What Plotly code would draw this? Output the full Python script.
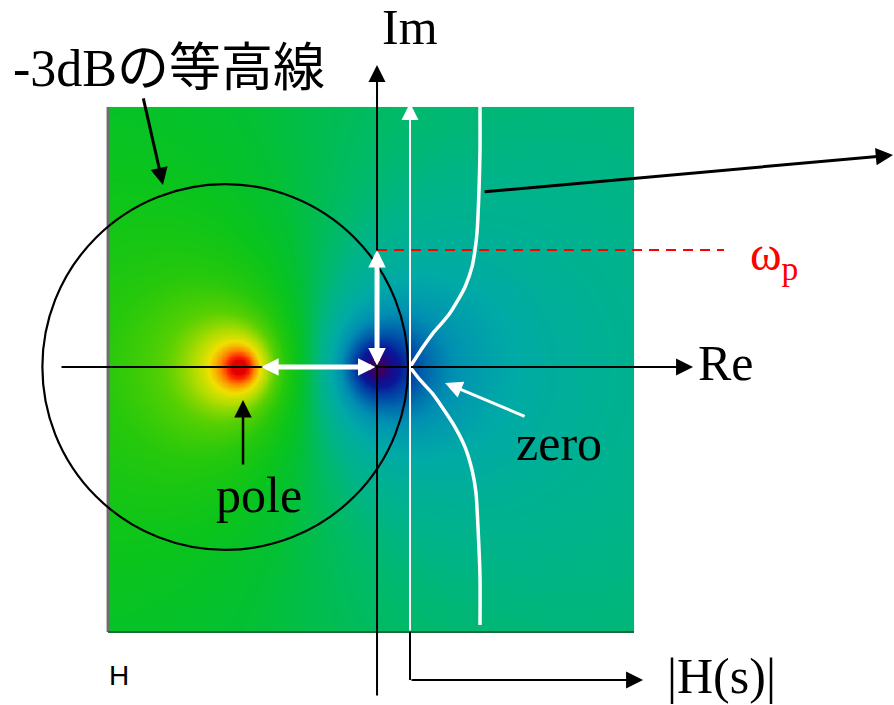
import numpy as np
import plotly.graph_objects as go

# ---- transfer function H(s) = (s - zero) / (s - pole) -------------------
poles = [complex(-1.0, 0.0)]
zeros = [complex(0.0, 0.0)]

# s-plane window covered by the |H(s)| surface (Re, Im)
re_span = [-1.949, 1.862]
im_span = [-1.920, 1.884]

# |H(jw)| profile along the imaginary axis (upper and lower halves)
omega_upper = [0.0, 0.145, 0.246, 0.319, 0.391, 0.486, 0.580, 0.725, 0.848,
               0.971, 1.283, 1.572, 1.884]
mag_upper = [0.0, 0.186, 0.329, 0.457, 0.571, 0.686, 0.786, 0.886, 0.929,
             0.957, 0.986, 1.0, 1.0]
omega_lower = [0.0, -0.094, -0.188, -0.290, -0.435, -0.580, -0.746, -0.913,
               -1.159, -1.522, -1.870]
mag_lower = [0.0, 0.143, 0.314, 0.457, 0.643, 0.786, 0.886, 0.943, 0.971,
             1.0, 1.0]

omega_p = 0.848            # pole frequency marked on the Im axis
contour_center = -1.10     # -3 dB contour (circle around the pole)
contour_radius = 1.325

# ---- magnitude surface ----------------------------------------------------
nx, ny = 320, 320
dx = (re_span[1] - re_span[0]) / nx
dy = (im_span[1] - im_span[0]) / ny
xs = re_span[0] + dx * (np.arange(nx) + 0.5)
ys = im_span[0] + dy * (np.arange(ny) + 0.5)
X, Y = np.meshgrid(xs, ys)
S = X + 1j * Y
H = np.ones_like(S)
for z in zeros:
    H = H * (S - z)
for p in poles:
    H = H / (S - p)
level = np.clip(np.log10(np.abs(H) + 1e-12), -1.3, 1.3)

lv = [(-1.30, "#3c0060"), (-1.05, "#1c0a88"), (-0.85, "#0a1898"),
      (-0.65, "#0050a8"), (-0.45, "#0090b2"), (-0.30, "#00aaa6"),
      (-0.15, "#00b488"), (-0.05, "#00bb60"), (0.05, "#03c034"),
      (0.15, "#0ac41c"), (0.30, "#26c80c"), (0.45, "#58d002"),
      (0.60, "#b0dc00"), (0.74, "#f0e000"), (0.90, "#ff8a00"),
      (1.08, "#ff2800"), (1.30, "#e00000")]
colorscale = [[(v + 1.3) / 2.6, c] for v, c in lv]

fig = go.Figure()
fig.add_trace(go.Heatmap(x=xs, y=ys, z=level, zmin=-1.3, zmax=1.3,
                         colorscale=colorscale, zsmooth="best",
                         showscale=False, hoverinfo="skip"))

# edges of the surface block
fig.add_trace(go.Scatter(x=[re_span[0], re_span[0]], y=[im_span[0], im_span[1]],
                         mode="lines", line=dict(color="#6e6e6e", width=3),
                         hoverinfo="skip", showlegend=False))
fig.add_trace(go.Scatter(x=[re_span[0], re_span[1]], y=[im_span[0], im_span[0]],
                         mode="lines", line=dict(color="#1d6a38", width=2),
                         hoverinfo="skip", showlegend=False))

# |H(jw)| profile and its baseline on the secondary x-axis
for om, mg in ((omega_upper, mag_upper), (omega_lower, mag_lower)):
    fig.add_trace(go.Scatter(x=mg, y=om, xaxis="x2", yaxis="y", mode="lines",
                             line=dict(color="white", width=3.5, shape="spline",
                                       smoothing=0.6),
                             hoverinfo="skip", showlegend=False))
fig.add_trace(go.Scatter(x=[0, 0], y=[im_span[0], -2.268], xaxis="x2", yaxis="y",
                         mode="lines", line=dict(color="black", width=2),
                         hoverinfo="skip", showlegend=False))

# -3 dB contour and the omega_p level
shapes = [
    dict(type="circle", xref="x", yref="y",
         x0=contour_center - contour_radius, x1=contour_center + contour_radius,
         y0=-contour_radius, y1=contour_radius,
         line=dict(color="black", width=2.2)),
    dict(type="line", xref="x", yref="y", x0=0, x1=2.514, y0=omega_p, y1=omega_p,
         line=dict(color="red", width=2, dash="10px,7px")),
]


def arrow(x, y, ax, ay, color, width, size, ref="x", both=False):
    return dict(x=x, y=y, ax=ax, ay=ay, xref=ref, yref="y", axref=ref, ayref="y",
                text="", showarrow=True, arrowhead=2, arrowsize=size,
                arrowwidth=width, arrowcolor=color, standoff=0, startstandoff=0,
                arrowside="end+start" if both else "end",
                startarrowhead=2, startarrowsize=size)


serif = "Liberation Serif, Times New Roman, serif"
annotations = [
    arrow(2.29, 0, -2.297, 0, "black", 2, 1.7),                 # Re axis
    arrow(0, 2.188, 0, -2.391, "black", 2, 1.7),                # Im axis
    arrow(0, 1.913, 0, im_span[0], "white", 2, 1.7, ref="x2"),  # |H| axis
    arrow(3.329, -2.268, 0, -2.268, "black", 2, 1.7, ref="x2"),
    arrow(-0.84, 0, 0, 0, "white", 5, 0.7, both=True),
    arrow(0, omega_p, 0, 0, "white", 5, 0.7, both=True),
    arrow(-0.971, -0.239, -0.971, -0.717, "black", 2.5, 1.4),   # pole
    arrow(-1.551, 1.319, -1.696, 1.957, "black", 3, 1.15),      # contour
    arrow(0.493, -0.116, 1.08, -0.362, "white", 3, 1.15),       # zero
    arrow(3.739, 1.536, 0.768, 1.268, "black", 3, 1.15),
    dict(x=0.239, y=2.465, text="Im", font=dict(family=serif, size=50, color="black")),
    dict(x=2.529, y=0.029, text="Re", font=dict(family=serif, size=50, color="black")),
    dict(x=-1.507, y=2.165, text="-3dBの等高線",
         font=dict(family="Liberation Serif, Noto Sans CJK JP", size=52, color="black")),
    dict(x=-0.855, y=-0.928, text="pole", font=dict(family=serif, size=50, color="black")),
    dict(x=1.319, y=-0.551, text="zero", font=dict(family=serif, size=50, color="black")),
    dict(x=2.493, y=-2.239, text="|H(s)|", font=dict(family=serif, size=50, color="black")),
    dict(x=2.688, y=0.80, xanchor="left", text="ω<sub>p</sub>",
         font=dict(family=serif, size=48, color="red")),
    dict(x=-1.955, y=-2.232, xanchor="left", text="H",
         font=dict(family="Liberation Sans, Arial", size=28, color="black")),
]
for a in annotations:
    if not a.get("showarrow"):
        a.update(xref="x", yref="y", showarrow=False,
                 xanchor=a.get("xanchor", "center"), yanchor="middle")

fig.update_layout(
    width=894, height=705, margin=dict(l=0, r=0, t=0, b=0),
    paper_bgcolor="white", plot_bgcolor="white",
    xaxis=dict(range=[-2.732, 3.746], visible=False, fixedrange=True),
    xaxis2=dict(range=[-5.857, 6.914], overlaying="x", anchor="y",
                visible=False, fixedrange=True),
    yaxis=dict(range=[-2.449, 2.659], visible=False, fixedrange=True),
    shapes=shapes, annotations=annotations, showlegend=False,
)

fig.write_html("out.html", config={"displayModeBar": False})
